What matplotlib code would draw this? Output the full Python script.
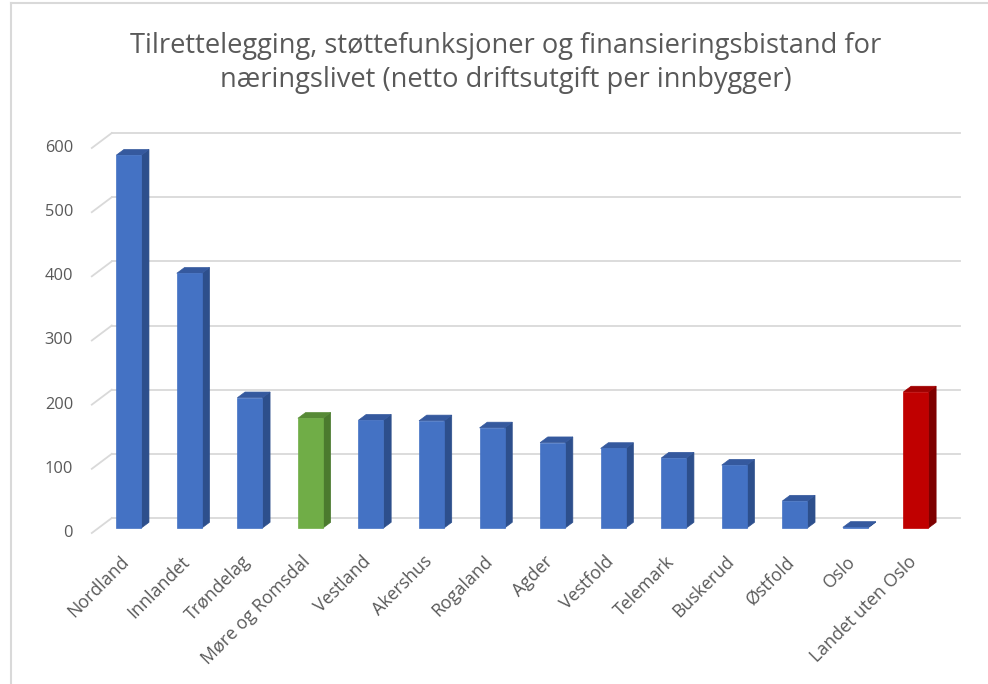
import matplotlib
matplotlib.use("Agg")
import matplotlib.pyplot as plt
from matplotlib.patches import Rectangle, Polygon
from matplotlib.lines import Line2D
import matplotlib.transforms as mtrans

categories = ["Nordland", "Innlandet", "Trøndelag", "Møre og Romsdal", "Vestland",
              "Akershus", "Rogaland", "Agder", "Vestfold", "Telemark", "Buskerud",
              "Østfold", "Oslo", "Landet uten Oslo"]
values = [581, 397, 203, 171, 168, 167, 156, 133, 124, 109, 98, 42, 1, 212]
kinds = ["n"] * 3 + ["g"] + ["n"] * 9 + ["r"]
yticks = [0, 100, 200, 300, 400, 500, 600]
title = "Tilrettelegging, støttefunksjoner og finansieringsbistand for\nnæringslivet (netto driftsutgift per innbygger)"

colors = {
    "n": ("#4472C4", "#2D4F8C", "#35599E"),
    "g": ("#70AD47", "#4B7A2E", "#578A36"),
    "r": ("#C00000", "#7E0000", "#A00000"),
}

plt.rcParams['font.family'] = ['Open Sans', 'DejaVu Sans']
W, H = 988, 684
fig = plt.figure(figsize=(W / 100, H / 100), dpi=100)

x0, x1 = 98.5, 946.2
yb, yt = 528, 143
ax = fig.add_axes([x0 / W, (H - yb) / H, (x1 - x0) / W, (yb - yt) / H])
ax.set_xlim(-0.5, 13.5)
ax.set_ylim(0, 600)
ax.axis("off")

grid_c = "#D9D9D9"
back = mtrans.offset_copy(ax.transData, fig=fig, x=13.3, y=10, units="dots")
front = mtrans.offset_copy(ax.transData, fig=fig, x=-6.7, y=-5, units="dots")
lab_t = mtrans.offset_copy(ax.transData, fig=fig, x=-25.5, y=-5, units="dots")

for v in yticks:
    ax.add_line(Line2D([-0.5, 13.5], [v, v], transform=back, color=grid_c, lw=1.3, clip_on=False, zorder=1))
    p_front = front.transform((-0.5, v))
    p_back = back.transform((-0.5, v))
    ax.add_line(Line2D([p_front[0], p_back[0]], [p_front[1], p_back[1]],
                       transform=mtrans.IdentityTransform(), color=grid_c, lw=1.3, clip_on=False, zorder=1))
    ax.text(-0.5, v, str(v), transform=lab_t, ha="right", va="center",
            fontsize=11.8, color="#595959", clip_on=False)

w = 0.413
ddx, ddy = 0.127, 8.9
for i, (v, k) in enumerate(zip(values, kinds)):
    fc, sc, tc = colors[k]
    l, r = i - w / 2, i + w / 2
    ax.add_patch(Polygon([(r, 0), (r + ddx, ddy), (r + ddx, v + ddy), (r, v)],
                         closed=True, facecolor=sc, edgecolor=sc, lw=0.5, clip_on=False, zorder=3))
    ax.add_patch(Polygon([(l, v), (l + ddx, v + ddy), (r + ddx, v + ddy), (r, v)],
                         closed=True, facecolor=tc, edgecolor=tc, lw=0.5, clip_on=False, zorder=3))
    ax.add_patch(Rectangle((l, 0), w, v, facecolor=fc, edgecolor=fc, lw=0.5, clip_on=False, zorder=4))

lab_c = mtrans.offset_copy(ax.transData, fig=fig, x=-2.5, y=-31, units="dots")
for i, c in enumerate(categories):
    ax.text(i, 0, c, transform=lab_c, rotation=45, rotation_mode="anchor",
            ha="right", va="center", fontsize=12.8, color="#595959", clip_on=False)

fig.text(506 / W, 1 - 63 / H, title, ha="center", va="center", fontsize=19.6,
         color="#595959", linespacing=1.33)

fig.add_artist(Line2D([10.5 / W, 10.5 / W], [0, 1 - 2.5 / H], transform=fig.transFigure, color="#D9D9D9", lw=1.5))
fig.add_artist(Line2D([10.5 / W, 1], [1 - 2.5 / H, 1 - 2.5 / H], transform=fig.transFigure, color="#D9D9D9", lw=1.5))

fig.savefig("out.png", dpi=100, facecolor="white")
